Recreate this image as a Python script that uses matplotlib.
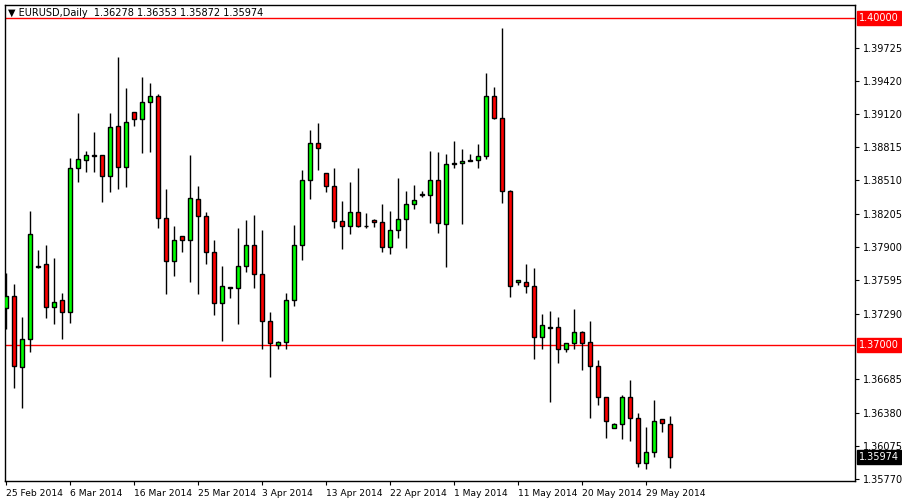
import matplotlib
matplotlib.use("Agg")
import matplotlib.pyplot as plt

opens = [1.3734,1.3745,1.3680,1.3706,1.3773,1.3774,1.3735,1.3741,1.3730,1.3862,
         1.3870,1.3874,1.3874,1.3855,1.3901,1.3863,1.3914,1.3907,1.3923,1.3928,
         1.3817,1.3777,1.3800,1.3796,1.3834,1.3818,1.3785,1.3739,1.3752,1.3752,
         1.3773,1.3792,1.3765,1.3722,1.3700,1.3703,1.3741,1.3792,1.3851,1.3885,
         1.3858,1.3846,1.3814,1.3809,1.3822,1.3809,1.3815,1.3813,1.3790,1.3806,
         1.3816,1.3829,1.3839,1.3838,1.3851,1.3811,1.3866,1.3867,1.3870,1.3870,
         1.3873,1.3928,1.3908,1.3841,1.3758,1.3758,1.3754,1.3707,1.3716,1.3717,
         1.3696,1.3702,1.3712,1.3703,1.3681,1.3652,1.3624,1.3628,1.3652,1.3633,
         1.3592,1.3602,1.3632,1.36278]
highs = [1.3766,1.3756,1.3726,1.3823,1.3787,1.3792,1.3780,1.3748,1.3872,1.3913,
         1.3878,1.3895,1.3874,1.3913,1.3964,1.3936,1.3914,1.3946,1.3940,1.3930,
         1.3843,1.3809,1.3800,1.3874,1.3846,1.3822,1.3796,1.3773,1.3752,1.3807,
         1.3815,1.3819,1.3806,1.3730,1.3704,1.3748,1.3810,1.3861,1.3897,1.3904,
         1.3858,1.3862,1.3832,1.3850,1.3862,1.3821,1.3816,1.3829,1.3823,1.3853,
         1.3841,1.3847,1.3841,1.3878,1.3877,1.3875,1.3887,1.3880,1.3875,1.3884,
         1.3950,1.3937,1.3991,1.3842,1.3760,1.3774,1.3771,1.3729,1.3731,1.3726,
         1.3702,1.3733,1.3713,1.3722,1.3686,1.3652,1.3629,1.3654,1.3668,1.3638,
         1.3625,1.3650,1.3632,1.36353]
lows = [1.3715,1.3661,1.3642,1.3694,1.3771,1.3725,1.3719,1.3706,1.3720,1.3850,
        1.3859,1.3859,1.3831,1.3840,1.3843,1.3845,1.3901,1.3876,1.3877,1.3807,
        1.3747,1.3763,1.3785,1.3758,1.3747,1.3774,1.3728,1.3704,1.3743,1.3719,
        1.3767,1.3752,1.3696,1.3671,1.3696,1.3696,1.3736,1.3778,1.3834,1.3861,
        1.3840,1.3807,1.3788,1.3802,1.3808,1.3807,1.3808,1.3785,1.3784,1.3798,
        1.3789,1.3825,1.3836,1.3812,1.3803,1.3772,1.3862,1.3811,1.3869,1.3862,
        1.3871,1.3907,1.3830,1.3744,1.3755,1.3748,1.3687,1.3696,1.3648,1.3684,
        1.3694,1.3696,1.3677,1.3633,1.3645,1.3615,1.3624,1.3614,1.3612,1.3588,
        1.3586,1.3597,1.3620,1.35872]
closes = [1.3745,1.3681,1.3706,1.3802,1.3772,1.3735,1.3740,1.3730,1.3862,1.3871,
          1.3874,1.3873,1.3855,1.3900,1.3863,1.3905,1.3907,1.3923,1.3928,1.3817,
          1.3777,1.3796,1.3796,1.3835,1.3818,1.3785,1.3739,1.3754,1.3753,1.3773,
          1.3792,1.3765,1.3722,1.3702,1.3703,1.3741,1.3792,1.3851,1.3885,1.3881,
          1.3846,1.3814,1.3809,1.3822,1.3809,1.3809,1.3813,1.3790,1.3806,1.3816,
          1.3829,1.3833,1.3838,1.3851,1.3812,1.3866,1.3867,1.3869,1.3869,1.3873,
          1.3928,1.3908,1.3841,1.3754,1.3760,1.3754,1.3707,1.3718,1.3716,1.3696,
          1.3702,1.3712,1.3702,1.3681,1.3652,1.3630,1.3628,1.3652,1.3633,1.3592,
          1.3602,1.3630,1.3629,1.35974]

date_labels = ["25 Feb 2014", "6 Mar 2014", "16 Mar 2014", "25 Mar 2014", "3 Apr 2014",
               "13 Apr 2014", "22 Apr 2014", "1 May 2014", "11 May 2014", "20 May 2014",
               "29 May 2014"]
date_idx = [0, 8, 16, 24, 32, 40, 48, 56, 64, 72, 80]
price_ticks = [1.39725, 1.39420, 1.39120, 1.38815, 1.38510, 1.38205, 1.37900,
               1.37595, 1.37290, 1.36685, 1.36380, 1.36075, 1.35770]
hlines = [1.40000, 1.37000]
title = "EURUSD,Daily  1.36278 1.36353 1.35872 1.35974"

W, H = 902, 501
fig = plt.figure(figsize=(W/100, H/100), dpi=100)
fig.patch.set_facecolor("white")
ax = fig.add_axes([5/W, 20/H, 850/W, 476/H])
ax.set_facecolor("white")

n = len(opens)
xs = list(range(n))
ax.vlines(xs, lows, highs, color="black", lw=1.0, zorder=2)
for i in xs:
    o, c = opens[i], closes[i]
    col = "#00FF00" if c >= o else "#FF0000"
    b = max(abs(c - o), 0.00003)
    ax.bar(i, b, bottom=min(o, c), width=0.6, color=col, edgecolor="black",
           linewidth=1.0, zorder=3)

for v in hlines:
    ax.axhline(v, color="#FF0000", lw=1.0, zorder=1)

ax.set_xlim(-0.125, 106.125)
ax.set_ylim(1.35754, 1.40119)

for s in ax.spines.values():
    s.set_color("black")
    s.set_linewidth(1.0)

ax.yaxis.tick_right()
ax.set_yticks(price_ticks)
ax.set_yticklabels([f"{v:.5f}" for v in price_ticks], fontsize=7, family="DejaVu Sans")
ax.tick_params(axis="y", direction="out", length=3, pad=3, colors="black")

ax.set_xticks(date_idx)
ax.set_xticklabels(date_labels, fontsize=6.6, ha="left", family="DejaVu Sans")
ax.tick_params(axis="x", direction="out", length=3, pad=3)

def box(v, bg):
    ax.text(1.005, v, f"{v:.5f}", transform=ax.get_yaxis_transform(), fontsize=7,
            color="white", va="center", ha="left",
            bbox=dict(boxstyle="square,pad=0.2", fc=bg, ec=bg))

box(1.40000, "#FF0000")
box(1.37000, "#FF0000")
box(closes[-1], "black")

ax.text(0.004, 0.993, "\u25BC " + title, transform=ax.transAxes, fontsize=7,
        va="top", ha="left", family="DejaVu Sans")

fig.savefig("out.png", dpi=100, facecolor="white")
